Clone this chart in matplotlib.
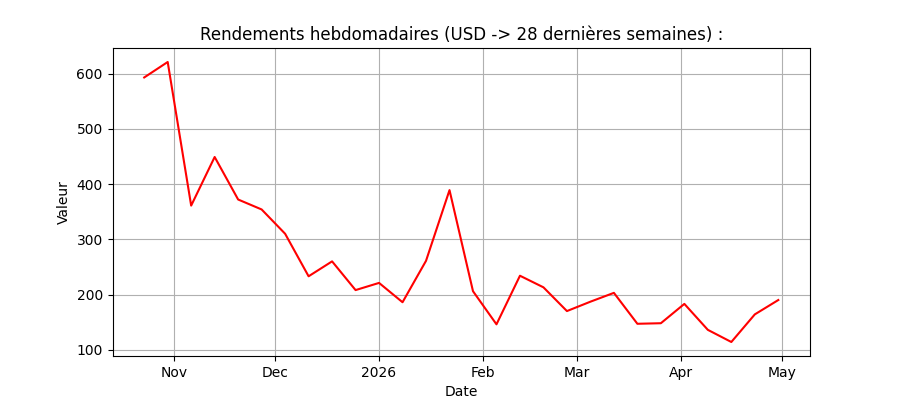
import matplotlib
matplotlib.use("Agg")
import matplotlib.pyplot as plt
import matplotlib.dates as mdates
import pandas as pd

dates = pd.date_range("2025-10-23", periods=28, freq="7D")
values = [593, 621, 361, 449, 372, 354, 310, 233, 260, 208, 221, 186, 261, 389,
          206, 146, 234, 213, 170, 187, 203, 147, 148, 183, 136, 114, 164, 190]

fig, ax = plt.subplots(figsize=(9, 4), dpi=100)
ax.plot(dates, values, color="red")
ax.set_title("Rendements hebdomadaires (USD -> 28 dernières semaines) :")
ax.set_xlabel("Date")
ax.set_ylabel("Valeur")
locator = mdates.MonthLocator()
ax.xaxis.set_major_locator(locator)
ax.xaxis.set_major_formatter(mdates.ConciseDateFormatter(locator))
ax.grid(True)
fig.savefig("out.png", dpi=100)
